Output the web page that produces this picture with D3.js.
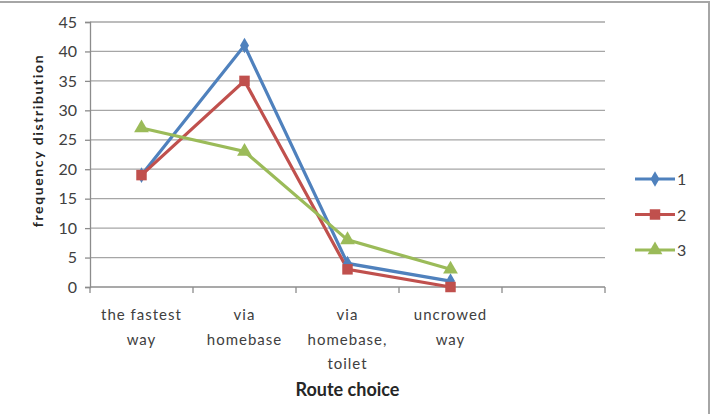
<!DOCTYPE html>
<html>
<head>
<meta charset="utf-8">
<script src="https://cdn.jsdelivr.net/npm/d3@7"></script>
<style>
  body { margin: 0; background: #fff; }
  text { font-family: Lato, "Open Sans", sans-serif; }
</style>
</head>
<body>
<div id="chart"></div>
<script>
// categories on the x axis (last one is an empty slot, as in the original)
const categories = [
    ["the fastest", "way"],
    ["via", "homebase"],
    ["via", "homebase,", "toilet"],
    ["uncrowed", "way"],
    [""]
];
const seriesNames = ["1", "2", "3"];
const series1 = [19, 41, 4, 1];
const series2 = [19, 35, 3, 0];
const series3 = [27, 23, 8, 3];
const yTicks = [0, 5, 10, 15, 20, 25, 30, 35, 40, 45];

const colors = ["#4F81BD", "#C0504D", "#9BBB59"];
const shapes = [d3.symbolDiamond, d3.symbolSquare, d3.symbolTriangle];
const shapeSizes = [70, 110, 95];

const W = 711, H = 414;
const margin = { top: 22, right: 106, bottom: 127, left: 90 };
const width = W - margin.left - margin.right;
const height = H - margin.top - margin.bottom;

const svg = d3.select("#chart").append("svg")
    .attr("width", W)
    .attr("height", H);

// chart frame
svg.append("rect")
    .attr("x", -2).attr("y", 2)
    .attr("width", 711).attr("height", 430)
    .attr("fill", "none")
    .attr("stroke", "#a6a6a6")
    .attr("stroke-width", 2);

const g = svg.append("g")
    .attr("transform", "translate(" + margin.left + "," + margin.top + ")");

const x = d3.scaleBand()
    .domain(d3.range(categories.length))
    .range([0, width]);

const y = d3.scaleLinear()
    .domain([0, 45])
    .range([height, 0]);

// gridlines
g.selectAll(".grid")
    .data(yTicks.slice(1))
    .enter()
    .append("line")
    .attr("x1", 0).attr("x2", width)
    .attr("y1", d => y(d)).attr("y2", d => y(d))
    .attr("stroke", "#a6a6a6")
    .attr("stroke-width", 1.3);

// y axis
const yAxis = g.append("g")
    .call(d3.axisLeft(y).tickValues(yTicks).tickSize(5).tickPadding(8));
yAxis.selectAll("line, path").attr("stroke", "#8c8c8c").attr("stroke-width", 1.3);
yAxis.selectAll("text")
    .attr("fill", "#404040")
    .style("font-size", "16px");

// x axis: ticks between categories
const xAxis = g.append("g")
    .attr("transform", "translate(0," + height + ")");
xAxis.append("line")
    .attr("x1", 0).attr("x2", width)
    .attr("stroke", "#8c8c8c").attr("stroke-width", 1.3);
xAxis.selectAll(".xtick")
    .data(d3.range(categories.length + 1))
    .enter()
    .append("line")
    .attr("x1", d => d * x.bandwidth()).attr("x2", d => d * x.bandwidth())
    .attr("y1", 0).attr("y2", 6)
    .attr("stroke", "#8c8c8c").attr("stroke-width", 1.3);

const catLabels = xAxis.selectAll(".cat")
    .data(categories)
    .enter()
    .append("text")
    .attr("x", (d, i) => x(i) + x.bandwidth() / 2)
    .attr("y", 33)
    .attr("text-anchor", "middle")
    .attr("fill", "#404040")
    .style("font-size", "15px")
    .style("letter-spacing", "1px");
catLabels.selectAll("tspan")
    .data(d => d)
    .enter()
    .append("tspan")
    .attr("x", function() { return this.parentNode.getAttribute("x"); })
    .attr("dy", (d, i) => i === 0 ? 0 : 24.5)
    .text(d => d);

// axis titles
svg.append("text")
    .attr("x", margin.left + width / 2)
    .attr("y", 396)
    .attr("text-anchor", "middle")
    .style("font-size", "18px")
    .style("font-weight", "bold")
    .attr("fill", "#262626")
    .text("Route choice");

svg.append("text")
    .attr("transform", "translate(43," + (margin.top + height / 2 - 14) + ") rotate(-90)")
    .attr("text-anchor", "middle")
    .style("font-size", "14px")
    .style("font-weight", "bold")
    .style("letter-spacing", "1.6px")
    .attr("fill", "#262626")
    .text("frequency distribution");

// lines and markers
const allSeries = [series1, series2, series3];
const line = d3.line()
    .x((d, i) => x(i) + x.bandwidth() / 2)
    .y(d => y(d));

allSeries.forEach((s, k) => {
    g.append("path")
        .datum(s)
        .attr("d", line)
        .attr("fill", "none")
        .attr("stroke", colors[k])
        .attr("stroke-width", 3.2);
});
allSeries.forEach((s, k) => {
    g.selectAll(".pt" + k)
        .data(s)
        .enter()
        .append("path")
        .attr("transform", (d, i) => "translate(" + (x(i) + x.bandwidth() / 2) + "," + y(d) + ")")
        .attr("d", d3.symbol().type(shapes[k]).size(shapeSizes[k]))
        .attr("fill", colors[k]);
});

// legend
const legend = svg.append("g")
    .attr("transform", "translate(635,179)");
seriesNames.forEach((name, k) => {
    const row = legend.append("g").attr("transform", "translate(0," + (k * 35.5) + ")");
    row.append("line")
        .attr("x1", 0).attr("x2", 40)
        .attr("stroke", colors[k]).attr("stroke-width", 3.2);
    row.append("path")
        .attr("transform", "translate(20,0)")
        .attr("d", d3.symbol().type(shapes[k]).size(shapeSizes[k]))
        .attr("fill", colors[k]);
    row.append("text")
        .attr("x", 42).attr("y", 6)
        .attr("fill", "#404040")
        .style("font-size", "16px")
        .text(name);
});
</script>
</body>
</html>
